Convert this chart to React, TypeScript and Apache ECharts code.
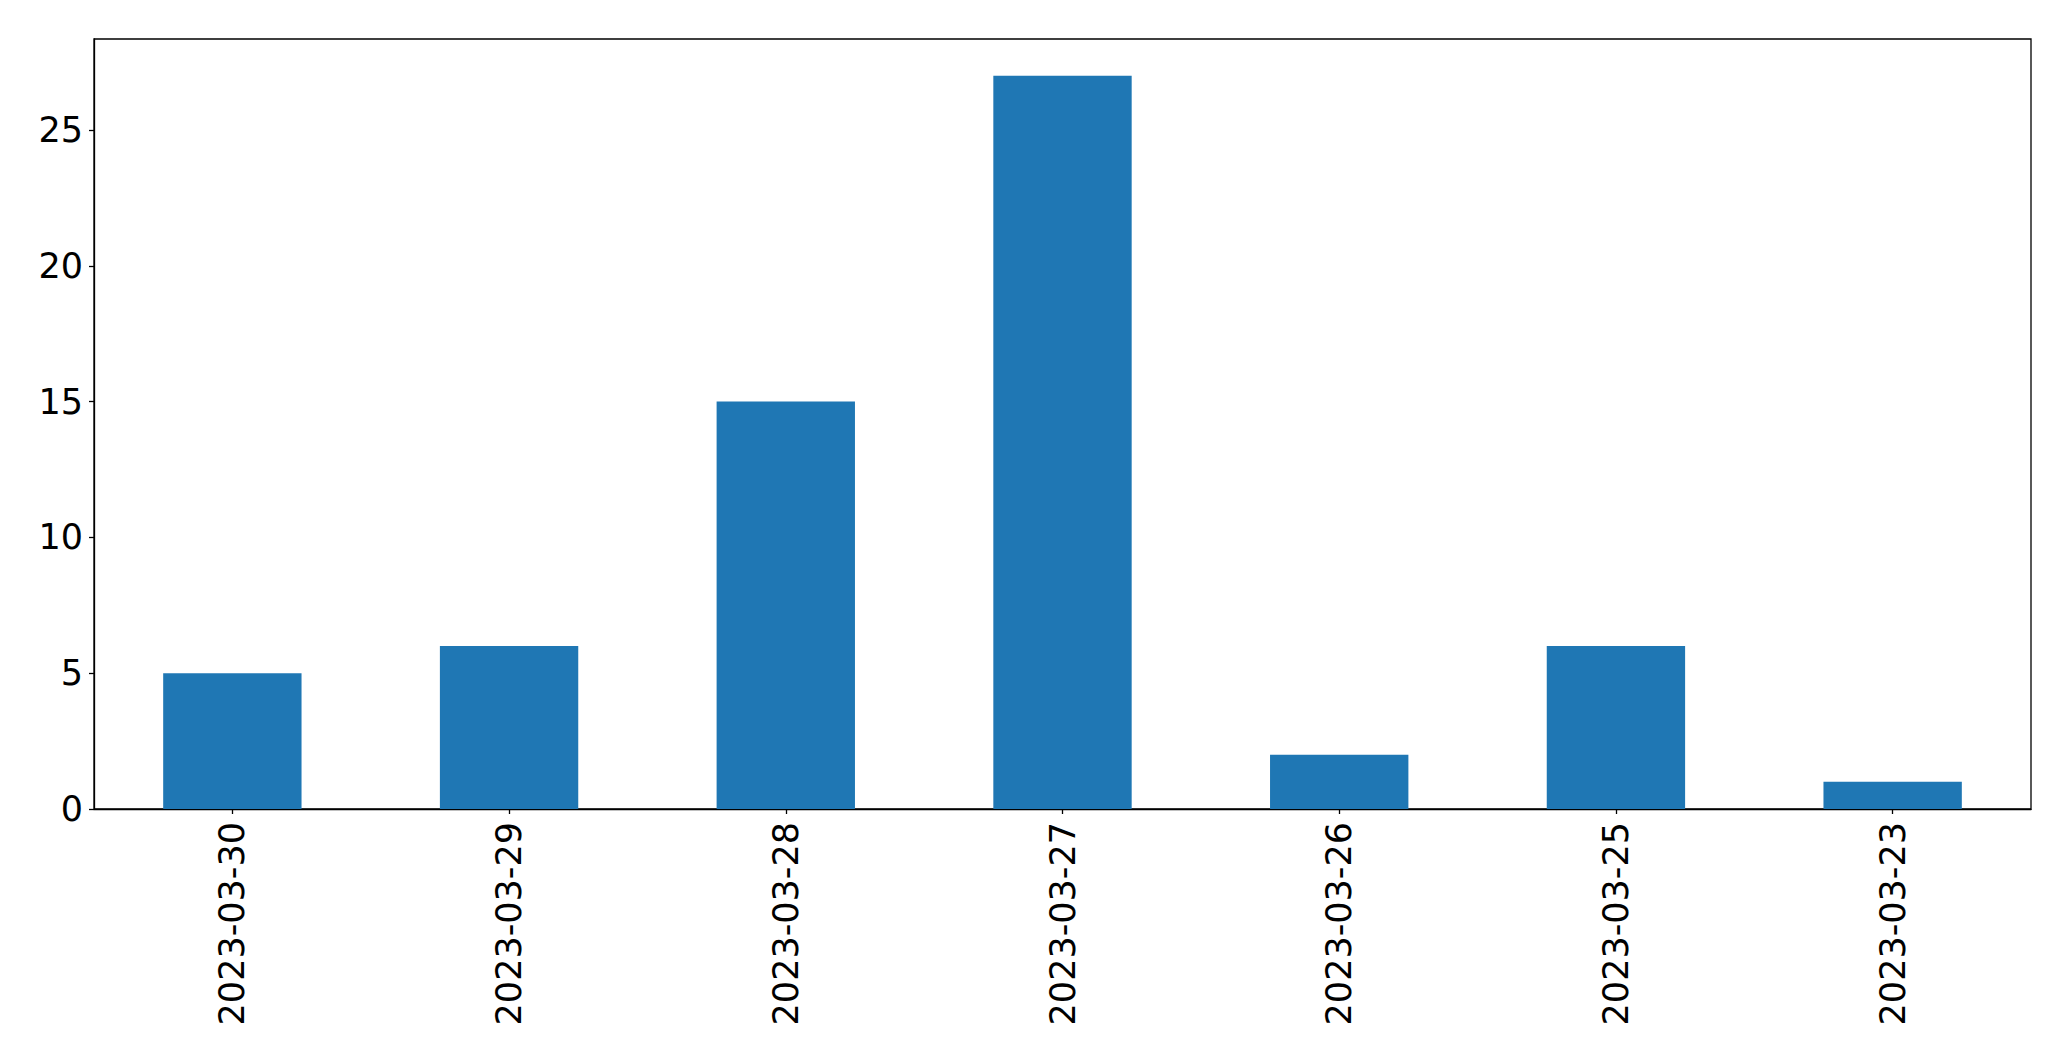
import React, { useEffect, useRef } from "react";
import * as echarts from "echarts";

const categories = ["2023-03-30", "2023-03-29", "2023-03-28", "2023-03-27", "2023-03-26", "2023-03-25", "2023-03-23"];
const counts = [5, 6, 15, 27, 2, 6, 1];
const yMax = 28.35;
const yInterval = 5;

export default function App() {
  const ref = useRef<HTMLDivElement>(null);
  useEffect(() => {
    if (!ref.current) return;
    const chart = echarts.init(ref.current, null, { renderer: "svg" });
    const font = { fontFamily: "DejaVu Sans", fontSize: 35, color: "#000" };
    chart.setOption({
      animation: false,
      backgroundColor: "#fff",
      grid: { left: 94, right: 40, top: 39, bottom: 252, show: true, borderColor: "#000", borderWidth: 1.3, backgroundColor: "transparent" },
      xAxis: {
        type: "category",
        data: categories,
        axisLine: { show: true, lineStyle: { color: "#000", width: 1.3 } },
        axisTick: { show: true, alignWithLabel: true, length: 5, lineStyle: { color: "#000", width: 1.3 } },
        axisLabel: { ...font, rotate: 90, margin: 13, interval: 0 },
        splitLine: { show: false },
      },
      yAxis: {
        type: "value",
        min: 0,
        max: yMax,
        interval: yInterval,
        axisLine: { show: true, lineStyle: { color: "#000", width: 1.3 } },
        axisTick: { show: true, length: 5, lineStyle: { color: "#000", width: 1.3 } },
        axisLabel: { ...font, margin: 11, showMaxLabel: false },
        splitLine: { show: false },
      },
      series: [
        {
          type: "bar",
          data: counts,
          barWidth: "50%",
          itemStyle: { color: "#1f77b4" },
        },
      ],
    });
    return () => chart.dispose();
  }, []);
  return <div ref={ref} style={{ position: "fixed", left: 0, top: 0, width: 2071, height: 1061 }} />;
}
